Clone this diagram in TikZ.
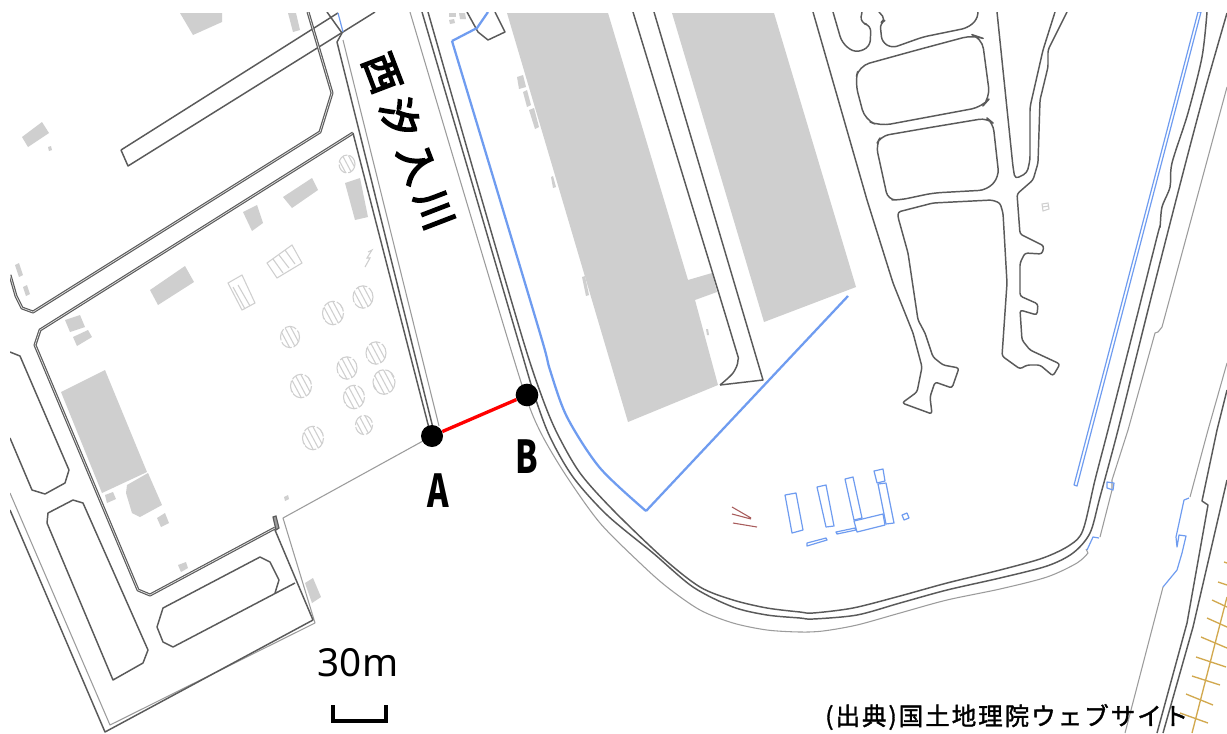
\documentclass[tikz,border=0pt]{standalone}
\usepackage{fontspec}
\setmainfont{Noto Sans}
\newfontfamily\cjk{Noto Sans CJK JP}
\newfontfamily\cjkr[LetterSpace=26,FakeBold=4.5]{Noto Sans CJK JP}
\newfontfamily\cjks[LetterSpace=8,FakeBold=1.5]{Noto Sans CJK JP}
\definecolor{dk}{HTML}{5A5A5A}
\definecolor{gy}{HTML}{9C9C9C}
\definecolor{bld}{HTML}{CFCFCF}
\definecolor{hat}{HTML}{CFCFCF}
\definecolor{bl}{HTML}{6F9CF0}
\definecolor{och}{HTML}{D2A94F}
\definecolor{brn}{HTML}{A85C5C}
\tikzset{
  dk/.style={draw=dk,line width=1.1pt,line join=round},
  thin gy/.style={draw=gy,line width=.8pt,line join=round},
  dbl/.style={draw=dk,line width=.85pt,double=white!75!gray,double distance=.55pt,line join=round},
  bld/.style={fill=bld,draw=none},
  blu/.style={draw=bl,line width=1.7pt,line join=round},
  blt/.style={draw=bl,line width=.9pt,line join=round},
  och/.style={draw=och,line width=1pt},
  hatline/.style={draw=hat,line width=.8pt},
  lab/.style={inner sep=0pt,font=\cjk\bfseries\fontsize{34}{34}\selectfont,xscale=.72},
}
\newcommand{\hcirc}[3]{%
 \begin{scope}[shift={(#1,#2)}]
 \draw[hatline,dash pattern=on 9pt off 1.5pt] (0,0) circle[x radius=#3,y radius=#3*1.12];
 \begin{scope}
 \clip (0,0) circle[x radius=#3,y radius=#3*1.12];
 \begin{scope}[rotate=-62]
 \foreach \o in {-10.5,-5.25,0,5.25,10.5}{\draw[hatline] (-15,\o)--(15,\o);}
 \end{scope}
 \end{scope}
 \end{scope}}
\begin{document}
\begin{tikzpicture}[x=.75pt,y=-.75pt]
\useasboundingbox[fill=white] (0,0) rectangle (1227,733);
\begin{scope}
\clip (10,12) rectangle (1227,733);
% grey buildings
\fill[bld] (507,13)--(608,13)--(688,280)--(712,273)--(717,292)--(695,300)--(718,385)--(628,422)--cycle;
\fill[bld] (672,13)--(774,13)--(856,287)--(764,322)--cycle;
\fill[bld] (61,392)--(105,370)--(147,472)--(102,493)--cycle;
\fill[bld] (127,485)--(148,473)--(162,505)--(140,517)--(132,513)--(126,493)--cycle;
\fill[bld] (105,495)--(113,492)--(116,499)--(107,503)--cycle;
\fill[bld] (157,518)--(165,513)--(169,523)--(161,527)--cycle;
\fill[bld] (178,565)--(186,562)--(188,568)--(181,572)--cycle;
\fill[bld] (284,497)--(288,495)--(289,499)--(285,501)--cycle;
\fill[bld] (305,583)--(313,578)--(321,597)--(312,603)--cycle;
\fill[bld] (180,13)--(222,13)--(222,22)--(193,35)--cycle;
\fill[bld] (288,13)--(296,13)--(300,30)--(293,32)--cycle;
\fill[bld] (22,137)--(42,122)--(49,133)--(28,147)--cycle;
\fill[bld] (48,147)--(51,146)--(52,150)--(49,151)--cycle;
\fill[bld] (15,265)--(19,263)--(23,275)--(19,277)--cycle;
\fill[bld] (23,287)--(27,285)--(30,294)--(26,296)--cycle;
\fill[bld] (283,197)--(312,178)--(318,190)--(292,208)--cycle;
\fill[bld] (345,183)--(360,178)--(368,217)--(355,220)--cycle;
\fill[bld] (243,212)--(257,205)--(263,223)--(252,231)--cycle;
\fill[bld] (150,290)--(185,266)--(194,282)--(158,305)--cycle;
\fill[bld] (65,320)--(80,315)--(85,327)--(70,332)--cycle;
\fill[bld] (73,337)--(88,330)--(92,337)--(77,346)--cycle;
\fill[bld] (517,77)--(523,75)--(526,87)--(519,89)--cycle;
\fill[bld] (523,92)--(527,90)--(531,105)--(527,107)--cycle;
\fill[bld] (529,110)--(534,108)--(539,127)--(535,129)--cycle;
\fill[bld] (551,177)--(553,176)--(556,187)--(553,188)--cycle;
\fill[bld] (582,277)--(585,276)--(589,295)--(586,296)--cycle;
\fill[bld] (706,329)--(708,329)--(709,335)--(707,335)--cycle;
\fill[bld] (449,13)--(456,13)--(456,17)--(449,17)--cycle;
\fill[bld] (459,13)--(465,13)--(466,19)--(460,19)--cycle;
\fill[bld] (449,20)--(454,19)--(455,23)--(450,24)--cycle;
% hatched tanks
\hcirc{347}{164}{8}
\hcirc{363}{297}{10}
\hcirc{333}{313}{10.5}
\hcirc{290}{337}{9.5}
\hcirc{376}{353}{10}
\hcirc{347}{368}{10}
\hcirc{384}{382}{11}
\hcirc{354}{397}{10.5}
\hcirc{301}{386}{10.5}
\hcirc{364}{425}{8.5}
\hcirc{313}{438}{10.5}
% hatched blocks
\draw[hatline] (267,263)--(292,245)--(302,263)--(277,278)--cycle;
\draw[hatline] (273,259)--(283,273) (279,255)--(289,268) (285,250)--(295,264);
\draw[hatline] (228,283)--(242,275)--(255,303)--(242,310)--cycle;
\draw[hatline] (233,287)--(245,309) (238,285)--(250,306);
\draw[hatline] (368,252)--(372,250)--(367,258)--(370,258)--(365,267);
\draw[hatline] (1042,204)--(1048,203)--(1049,209)--(1043,211)--cycle (1042,207)--(1049,206);
% west block
\draw[dk] (121,150)--(338,12.9) (121,150)--(128,166)--(375,12);
\draw[blt] (338,13)--(343,32);
\draw[dbl] (308,12)--(332,93)--(320,132)--(33,312)--(22,308)--(16,296)--(10,275);
\draw[dk] (327,12)--(342,33)--(337,42)--(434,432);
\draw[thin gy] (343,40)--(439,426);
\draw[dbl] (353,133)--(40,330)--(35,345)--(138,590)--(150,595)--(275,528);
\draw[dk] (353,133)--(430,432);
\draw[draw=dk,line width=.9pt,fill=gy] (273,517)--(276,516)--(279,528)--(276,530)--cycle;
\draw[thin gy] (432,436)--(283,518)--(315,623)--(110,725)--(10,493);
\draw[dk] (275,530)--(313,620)--(105,732)--(10,510);
\draw[dk] (295,583)--(173,647)--(163,642)--(157,627)--(163,608)--(260,557)--(270,562)--(279,580)--(275,593);
\draw[dk] (73,500)--(83,503)--(148,650)--(143,663)--(113,680)--(47,523)--(48,513)--cycle;
\draw[dk] (10,352)--(20,356)--(69,470)--(65,483)--(45,494)--(32,490)--(10,438);
% main shoreline
\draw[thin gy] plot[smooth,tension=.5] coordinates {(410,12) (460,180) (508,340) (528,403) (543,437) (567,477) (600,523) (640,563) (667,587) (700,610) (733,623) (767,630) (800,632) (823,631) (857,625) (900,613) (947,600) (1000,589) (1047,577) (1077,563) (1088,553)};
\draw[thin gy] (1088,553)--(1086,549) (1100,537)--(1112,490)--(1112,480)--(1128,430)--(1155,333)--(1158,332)--(1162,327)--(1227,87);
\draw[dk] plot[smooth,tension=.5] coordinates {(422,12) (470,176) (518,340) (535,397) (550,437) (573,477) (607,515) (653,553) (693,587) (733,607) (767,615) (800,618) (813,619) (857,615) (900,603) (947,590) (1000,578) (1047,566) (1073,553) (1090,533) (1100,497) (1118,430) (1150,302) (1183,173) (1205,90) (1227,13)};
\draw[dk] plot[smooth,tension=.5] coordinates {(428,12) (475,176) (523,340) (542,397) (557,433) (580,473) (613,510) (663,558) (700,587) (733,600) (767,608) (800,612) (813,613) (853,608) (900,596) (947,583) (1000,570) (1043,558) (1070,545) (1083,530) (1095,480) (1108,430) (1133,332) (1158,233) (1160,227) (1162,207) (1170,187) (1172,163) (1188,113) (1202,57) (1207,12)};
% inner docks
\draw[dk] plot[smooth,tension=.5] coordinates {(633,12) (683,176) (733,340) (738,360) (733,373) (720,385)};
\draw[dk] (654,12)--(763,380)--(720,385);
\draw[dk] (467,12)--(478,32)--(488,40)--(505,32)--(495,12);
% east structures
\draw[dk,rounded corners=2pt] (813,12)--(867,200)--(893,283)--(913,333)--(922,367)--(917,392)--(902,403)--(932,414)--(930,397)--(935,382)--(952,388)--(959,368)--(943,365)--(933,357)--(925,333)--(918,320)--(908,253)--(898,217)--(898,212)--(933,203)--(992,200)--(1000,203)--(1003,213)--(1007,283)--(1002,356)--(1020,369)--(1027,365)--(1040,365)--(1053,376)--(1060,364)--(1030,350)--(1022,340)--(1020,310)--(1037,315)--(1038,304)--(1020,296)--(1020,263)--(1025,253)--(1042,254)--(1044,246)--(1020,234)--(1017,194)--(1033,180)--(1038,163)--(1040,100)--(1048,67)--(1048,50)--(1067,12);
\draw[dk,rounded corners=3pt] (997,12)--(1013,167)--(1015,179)--(1027,173)--(1030,160)--(1030,107)--(1043,50)--(1055,12);
\draw[dk,rounded corners=8pt] (917,50)--(973,35)--(982,38)--(990,98)--(982,107)--(880,126)--(865,120)--(855,82)--(859,66)--cycle;
\draw[dk,rounded corners=6pt] (933,127)--(987,118)--(993,123)--(999,177)--(987,190)--(933,193)--(900,200)--(888,200)--(876,145)--(881,136)--cycle;
\draw[dk,rounded corners=5pt] (833,12)--(842,43)--(855,53)--(870,47)--(871,25)--(860,23)--(862,12);
\draw[dk,rounded corners=4pt] (879,12)--(886,20)--(880,23)--(882,42)--(892,48)--(923,37)--(967,28)--(977,20)--(978,12);
% blue
\draw[blu] (488,12)--(477,28)--(452,41);
\draw[blu] plot[smooth,tension=.5] coordinates {(452,41) (497,190) (542,340) (550,370) (567,417) (600,468) (646,511)};
\draw[blu] (646,511)--(848,296);
\draw[blt] (1074,485)--(1198,12)--(1201,12)--(1077,486)--cycle;
\draw[blt] (785,495)--(796,493)--(803,530)--(792,533)--cycle;
\draw[blt] (817,487)--(826,485)--(834,526)--(826,527)--cycle;
\draw[blt] (845,479)--(853,477)--(862,518)--(854,520)--cycle;
\draw[blt] (874,471)--(883,469)--(885,481)--(877,483)--cycle;
\draw[blt] (878,484)--(886,483)--(894,523)--(886,524)--cycle;
\draw[blt] (854,521)--(883,514)--(885,525)--(857,532)--cycle;
\draw[blt] (836,532)--(855,528)--(856,530)--(837,534)--cycle;
\draw[blt] (807,543)--(826,538)--(827,540)--(807,546)--cycle;
\draw[blt] (902,515)--(907,513)--(909,518)--(904,520)--cycle;
\draw[blt] (1107,482)--(1107,488)--(1113,490)--(1114,483)--cycle;
\draw[blt] (1087,550)--(1093,537)--(1099,538);
\draw[blt] (1163,587)--(1177,570)--(1182,553)--(1186,536)--(1179,535)--(1177,547)--(1176,537)--(1184,500)--(1189,498);
% brown
\draw[draw=brn,line width=.8pt] (732,507)--(751,518) (732,514)--(751,519) (733,523)--(757,527);
% right edge
\draw[thin gy] (1125,733)--(1163,587) (1190,497)--(1208,430)--(1227,363);
\draw[dk] (1157,733)--(1187,623)--(1208,505)--(1202,501)--(1217,430)--(1227,390);
\draw[dk] (1163,733)--(1193,627)--(1227,480);
\draw[och] (1227,597)--(1192,733);
\foreach \a/\b/\c/\d in {1224/562/1227/563,1218/582/1227/585,1212/600/1227/607,1207/618/1227/627,1201/637/1227/648,1196/657/1226/667,1192/676/1220/685,1186/694/1213/705,1180/713/1208/723}{\draw[och] (\a,\b)--(\c,\d);}
\end{scope}
% line AB
\node[circle,fill=black,inner sep=0pt,minimum size=16.5pt] (A) at (432,436) {};
\node[circle,fill=black,inner sep=0pt,minimum size=17pt] (B) at (527,395) {};
\draw[red,line width=2.5pt] (A)--(B);
\node[lab] (la) at (438,491) {A};
\node[lab] (lb) at (527,457) {B};
\node[inner sep=0pt,rotate=-69,font=\cjkr\fontsize{29}{29}\selectfont] (river) at (409,141) {西汐入川};
\node[inner sep=0pt,font=\fontsize{29}{29}\selectfont] (scale) at (358,663) {30m};
\coordinate (s1) at (333,705);
\coordinate (s2) at (386,705);
\draw[line width=3pt,line cap=butt] (s1)--(s1|-0,721)--(s2|-0,721)--(s2);
\node[inner sep=0pt,anchor=west,font=\cjks\fontsize{18.4}{18.4}\selectfont] (src) at (825,717) {(出典)国土地理院ウェブサイト};
\end{tikzpicture}
\end{document}
